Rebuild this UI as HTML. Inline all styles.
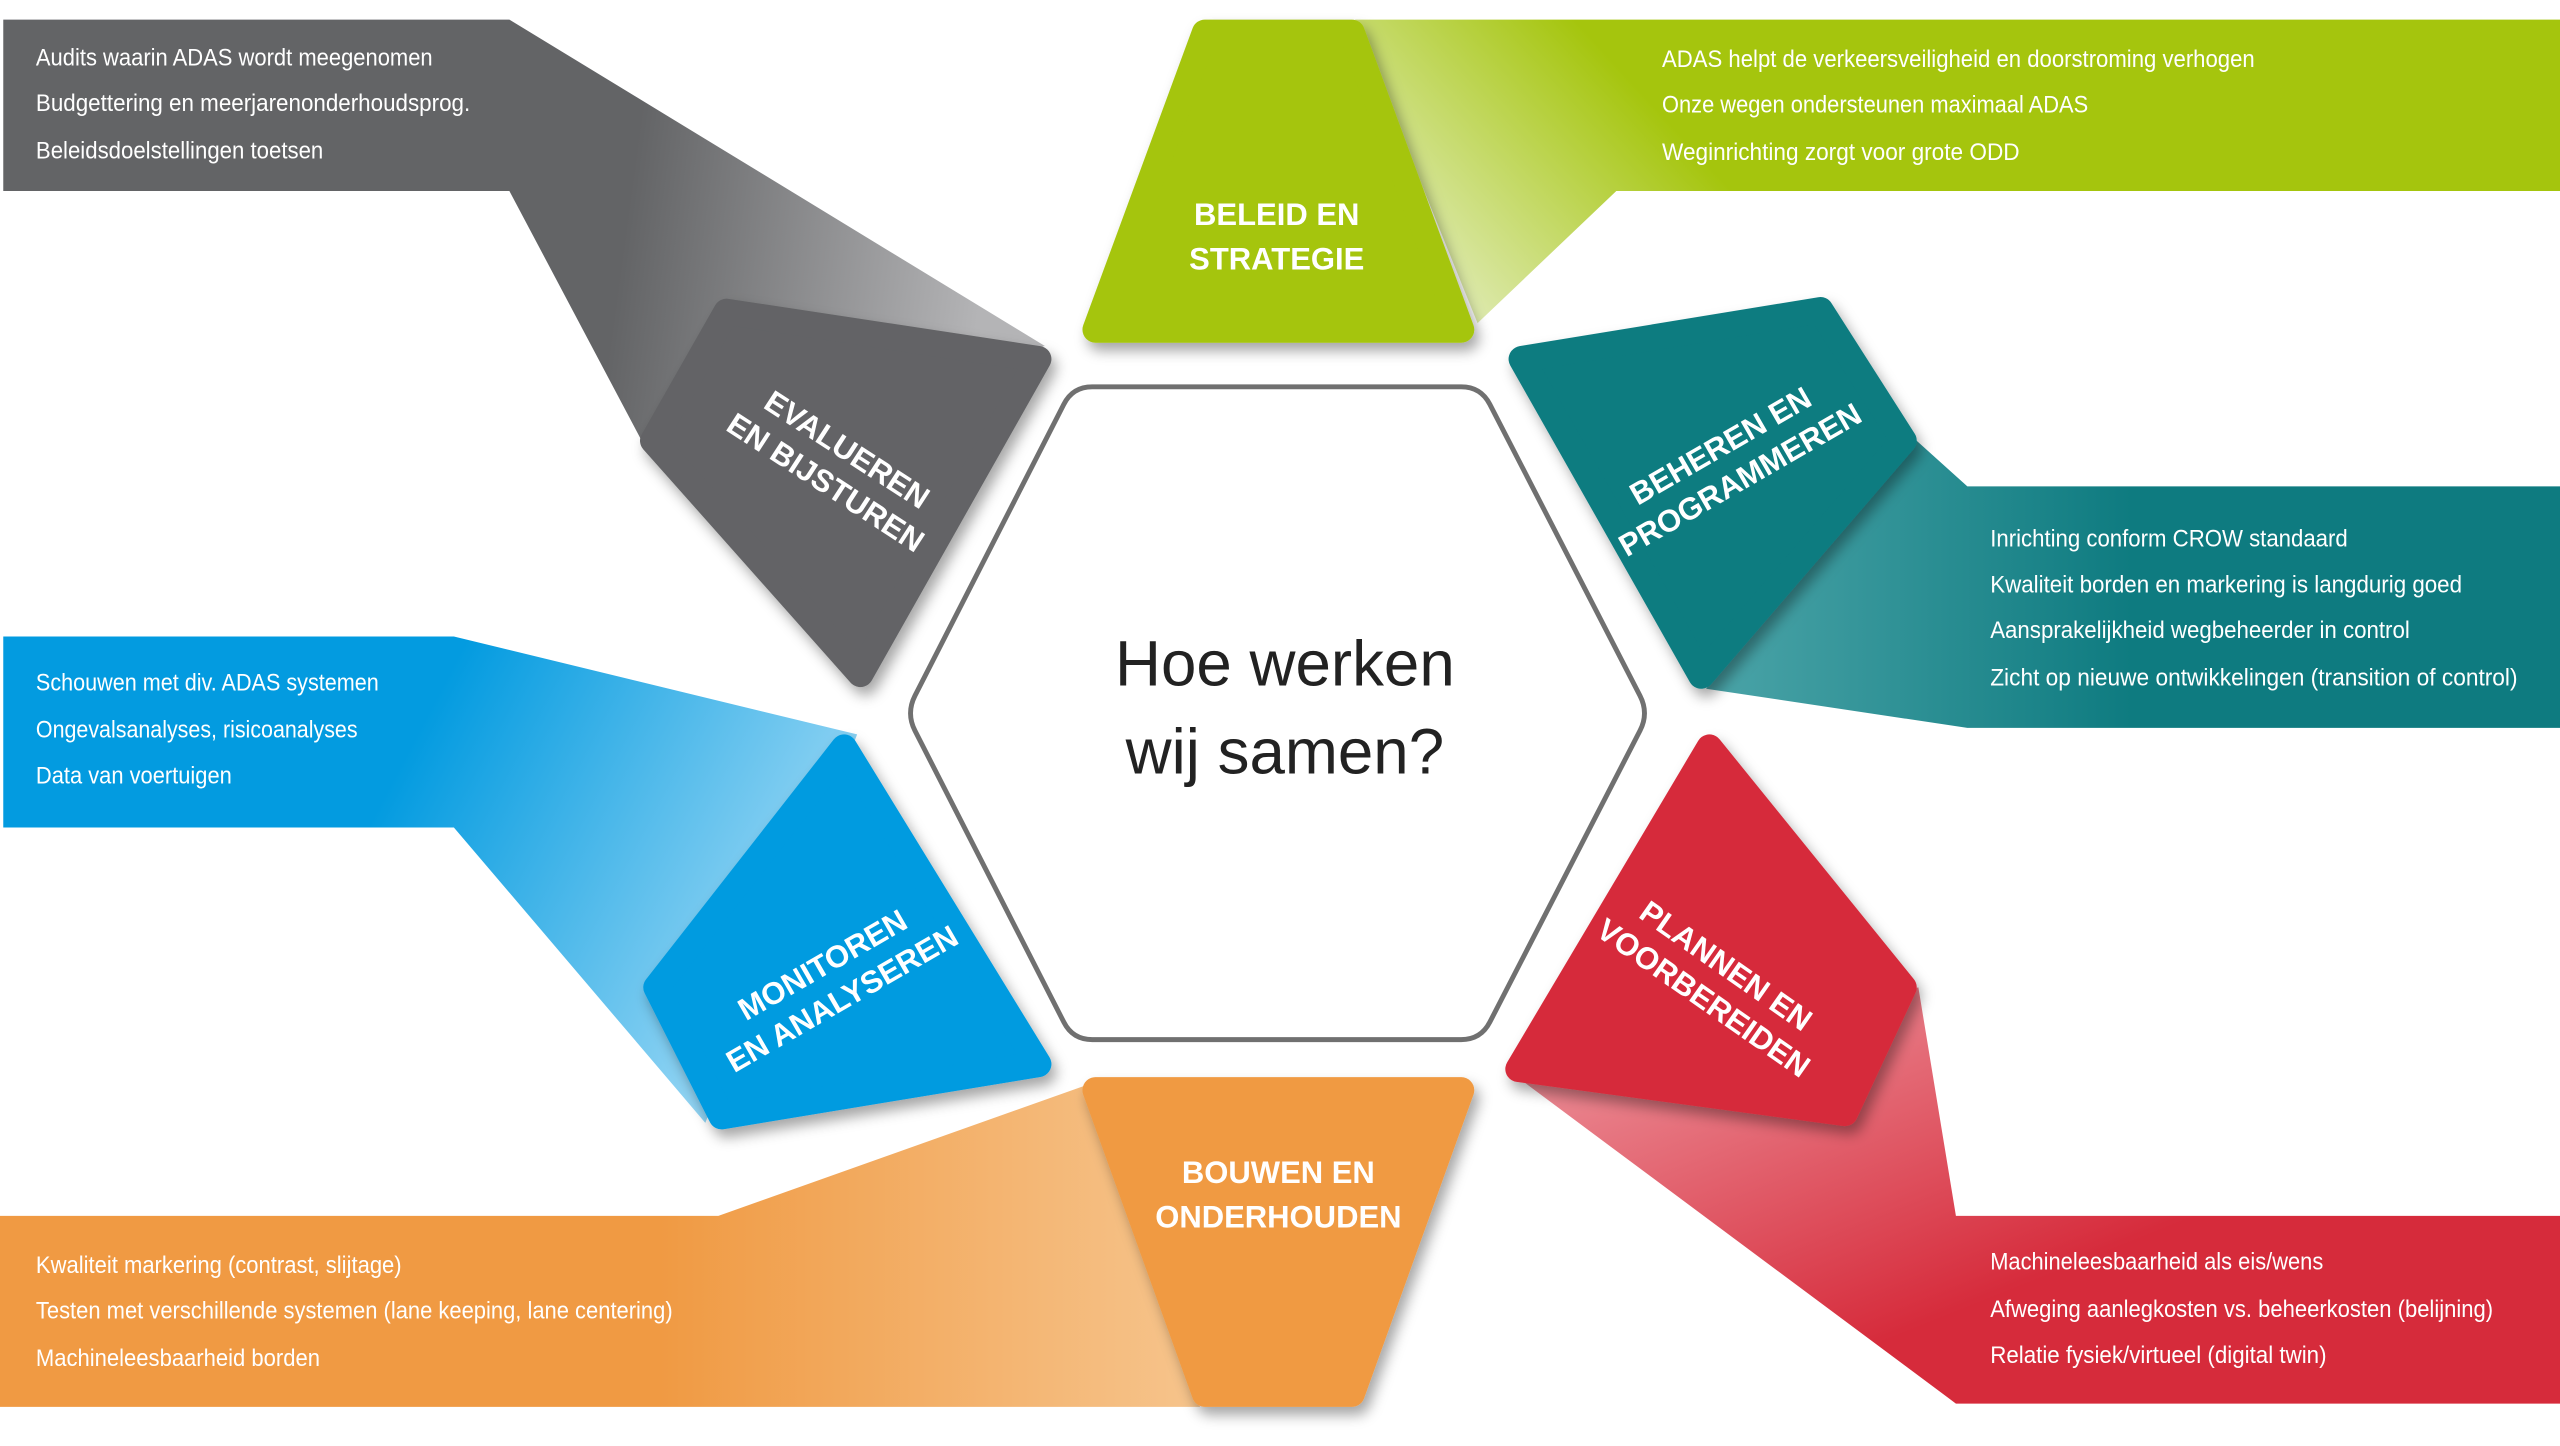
<!DOCTYPE html>
<html><head><meta charset="utf-8"><style>
html,body{margin:0;padding:0;background:#fff;}
svg{display:block;}
.t{font-family:"Liberation Sans Narrow","Liberation Sans",sans-serif;font-size:15px;fill:#fff;}
.l{font-family:"Liberation Sans",sans-serif;font-size:19px;font-weight:bold;fill:#fff;text-anchor:middle;}
</style></head><body>
<svg width="2560" height="1446" viewBox="0 0 1568 886" preserveAspectRatio="none" xmlns="http://www.w3.org/2000/svg">
<defs>
<filter id="sh" x="-20%" y="-20%" width="140%" height="140%"><feDropShadow dx="3" dy="5" stdDeviation="4" flood-color="#000" flood-opacity="0.35"/></filter>
<linearGradient id="gG" gradientUnits="userSpaceOnUse" x1="380" y1="160" x2="600" y2="190"><stop offset="0" stop-color="#636466"/><stop offset="1" stop-color="#b4b4b6"/></linearGradient>
<linearGradient id="gGr" gradientUnits="userSpaceOnUse" x1="990" y1="40" x2="870" y2="150"><stop offset="0" stop-color="#a5c50d"/><stop offset="1" stop-color="#dbe8a8"/></linearGradient>
<linearGradient id="gT" x1="0" y1="0" x2="1" y2="0"><stop offset="0" stop-color="#4ba4a8"/><stop offset="0.5" stop-color="#0e7b80"/></linearGradient>
<linearGradient id="gR" x1="0" y1="0" x2="1" y2="1"><stop offset="0" stop-color="#f0a0a8"/><stop offset="0.6" stop-color="#d62b3b"/></linearGradient>
<linearGradient id="gO" x1="1" y1="0" x2="0" y2="0"><stop offset="0" stop-color="#f6c48c"/><stop offset="0.45" stop-color="#f09a43"/></linearGradient>
<linearGradient id="gB" x1="1" y1="0.3" x2="0" y2="0"><stop offset="0" stop-color="#8fd3f3"/><stop offset="0.5" stop-color="#039be0"/></linearGradient>
</defs>

<polygon points="2,12 312,12 640,212 393,270 312,117 2,117" fill="url(#gG)"/>
<polygon points="835,12 1568,12 1568,117 990,117 905,198 830,12" fill="url(#gGr)"/>
<polygon points="1165,262 1205,298 1568,298 1568,446 1205,446 1045,422" fill="url(#gT)"/>
<polygon points="1175,605 1198,745 1568,745 1568,860 1198,860 932,662" fill="url(#gR)"/>
<polygon points="0,745 440,745 665,665 735,862 0,862" fill="url(#gO)"/>
<polygon points="2,390 278,390 525,450 432,688 278,507 2,507" fill="url(#gB)"/>

<path d="M669,237 L895,237 Q907,237 912.5,247.7 L1004.5,426.3 Q1010,437 1004.5,447.7 L912.5,626.3 Q907,637 895,637 L669,637 Q657,637 651.6,626.3 L560.4,447.7 Q555,437 560.4,426.3 L651.6,247.7 Q657,237 669,237Z" fill="#fff" stroke="#707070" stroke-width="3"/>
<text x="787" y="420" font-family="Liberation Sans,sans-serif" font-size="39" fill="#222" text-anchor="middle">Hoe werken</text>
<text x="787" y="474" font-family="Liberation Sans,sans-serif" font-size="39" fill="#222" text-anchor="middle">wij samen?</text>

<g filter="url(#sh)" stroke-linejoin="round" stroke-width="16">
<polygon points="738,20 828,20 895,202 671,202" fill="#a5c50d" stroke="#a5c50d"/>
<polygon points="671,668 895,668 828,854 738,854" fill="#f09a43" stroke="#f09a43"/>
<polygon points="445,191 636,220 527,413 400,270" fill="#636466" stroke="#636466"/>
<polygon points="932,220 1115,190 1166,270 1042,414" fill="#0e7b80" stroke="#0e7b80"/>
<polygon points="1047,458 1166,605 1130,682 930,655" fill="#d62b3b" stroke="#d62b3b"/>
<polygon points="402,605 517,458 636,652 442,684" fill="#039be0" stroke="#039be0"/>
</g>

<text class="l" x="782" y="138">BELEID EN</text>
<text class="l" x="782" y="165">STRATEGIE</text>
<text class="l" x="783" y="725">BOUWEN EN</text>
<text class="l" x="783" y="752">ONDERHOUDEN</text>
<g transform="translate(512,286) rotate(33)"><text class="l" x="0" y="-6">EVALUEREN</text><text class="l" x="0" y="18">EN BIJSTUREN</text></g>
<g transform="translate(1060,284) rotate(-30)"><text class="l" x="0" y="-6">BEHEREN EN</text><text class="l" x="0" y="18">PROGRAMMEREN</text></g>
<g transform="translate(1050,602) rotate(35)"><text class="l" x="0" y="-6">PLANNEN EN</text><text class="l" x="0" y="18">VOORBEREIDEN</text></g>
<g transform="translate(510,602) rotate(-30)"><text class="l" x="0" y="-6">MONITOREN</text><text class="l" x="0" y="18">EN ANALYSEREN</text></g>

<g class="t">
<text x="22" y="40" textLength="243" lengthAdjust="spacingAndGlyphs">Audits waarin ADAS wordt meegenomen</text>
<text x="22" y="68" textLength="266" lengthAdjust="spacingAndGlyphs">Budgettering en meerjarenonderhoudsprog.</text>
<text x="22" y="97" textLength="176" lengthAdjust="spacingAndGlyphs">Beleidsdoelstellingen toetsen</text>

<text x="1018" y="41" textLength="363" lengthAdjust="spacingAndGlyphs">ADAS helpt de verkeersveiligheid en doorstroming verhogen</text>
<text x="1018" y="69" textLength="261" lengthAdjust="spacingAndGlyphs">Onze wegen ondersteunen maximaal ADAS</text>
<text x="1018" y="98" textLength="219" lengthAdjust="spacingAndGlyphs">Weginrichting zorgt voor grote ODD</text>

<text x="1219" y="335" textLength="219" lengthAdjust="spacingAndGlyphs">Inrichting conform CROW standaard</text>
<text x="1219" y="363" textLength="289" lengthAdjust="spacingAndGlyphs">Kwaliteit borden en markering is langdurig goed</text>
<text x="1219" y="391" textLength="257" lengthAdjust="spacingAndGlyphs">Aansprakelijkheid wegbeheerder in control</text>
<text x="1219" y="420" textLength="323" lengthAdjust="spacingAndGlyphs">Zicht op nieuwe ontwikkelingen (transition of control)</text>

<text x="22" y="423" textLength="210" lengthAdjust="spacingAndGlyphs">Schouwen met div. ADAS systemen</text>
<text x="22" y="452" textLength="197" lengthAdjust="spacingAndGlyphs">Ongevalsanalyses, risicoanalyses</text>
<text x="22" y="480" textLength="120" lengthAdjust="spacingAndGlyphs">Data van voertuigen</text>

<text x="22" y="780" textLength="224" lengthAdjust="spacingAndGlyphs">Kwaliteit markering (contrast, slijtage)</text>
<text x="22" y="808" textLength="390" lengthAdjust="spacingAndGlyphs">Testen met verschillende systemen (lane keeping, lane centering)</text>
<text x="22" y="837" textLength="174" lengthAdjust="spacingAndGlyphs">Machineleesbaarheid borden</text>

<text x="1219" y="778" textLength="204" lengthAdjust="spacingAndGlyphs">Machineleesbaarheid als eis/wens</text>
<text x="1219" y="807" textLength="308" lengthAdjust="spacingAndGlyphs">Afweging aanlegkosten vs. beheerkosten (belijning)</text>
<text x="1219" y="835" textLength="206" lengthAdjust="spacingAndGlyphs">Relatie fysiek/virtueel (digital twin)</text>
</g>
</svg>
</body></html>
